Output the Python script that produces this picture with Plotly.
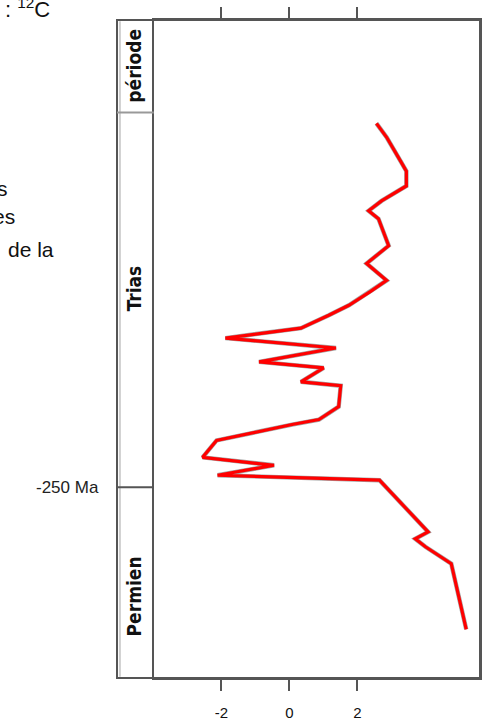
import plotly.graph_objects as go

# delta13C values (per mil) and ages (Ma, negative = before present)
d13c = [2.56, 2.86, 3.27, 3.44, 3.44, 3.15, 2.71, 2.33, 2.62, 2.92, 2.62, 2.27,
        2.86, 2.39, 1.75, 1.16, 0.34, -1.88, 1.37, -0.89, 1.01, 0.34, 1.51, 1.45,
        0.87, 0.08, -2.14, -2.55, -0.45, -2.11, 2.65, 4.08, 3.70, 4.00, 4.76, 5.20]
age = [-242.68, -242.96, -243.44, -243.64, -243.94, -244.06, -244.24, -244.44,
       -244.60, -245.14, -245.30, -245.50, -245.84, -246.06, -246.34, -246.54,
       -246.80, -247.00, -247.20, -247.48, -247.60, -247.88, -247.96, -248.38,
       -248.64, -248.74, -249.06, -249.40, -249.56, -249.76, -249.86, -250.90,
       -251.04, -251.20, -251.54, -252.86]

x_ticks = [-2, 0, 2]
x_tick_labels = ["-2", "0", "2"]
boundary_age = -250
boundary_label = "-250 Ma"
periods = ["période", "Trias", "Permien"]
period_label_age = [None, -246.0, -252.2]
left_fragments = ["s", "es", "de la"]

RED = "#ff0000"
FRAME = "#555555"
FONT = "Liberation Sans, Arial, sans-serif"
NARROW = "Liberation Sans Narrow, Arial Narrow, DejaVu Sans Condensed, sans-serif"

fig = go.Figure()
fig.add_trace(go.Scatter(x=d13c, y=age, mode="lines",
                         line=dict(color="rgba(90,90,90,0.55)", width=4.4),
                         hoverinfo="skip"))
fig.add_trace(go.Scatter(x=d13c, y=age, mode="lines",
                         line=dict(color=RED, width=3.2)))

col_w = 0.1014  # fraction of paper width used by the period column

fig.update_layout(
    width=485, height=724,
    margin=dict(l=117, r=3, t=20, b=42, pad=0),
    paper_bgcolor="white", plot_bgcolor="white",
    showlegend=False,
    xaxis=dict(domain=[col_w, 1], range=[-3.985, 5.605], showgrid=False,
               zeroline=False, showline=True, linecolor=FRAME, linewidth=2,
               mirror="ticks", ticks="outside", ticklen=11, tickwidth=2,
               tickcolor=FRAME, tickvals=x_ticks, ticktext=x_tick_labels,
               ticklabelstandoff=9,
               tickfont=dict(family=FONT, size=15, color="#111")),
    yaxis=dict(domain=[0, 1], range=[-253.84, -240.6], showgrid=False,
               zeroline=False, showline=True, linecolor=FRAME, linewidth=2,
               mirror=True, ticks="", showticklabels=False),
)

shapes = [
    # outer frame around column + plot
    dict(type="rect", xref="paper", yref="paper", x0=0, x1=1, y0=0, y1=1,
         line=dict(color=FRAME, width=2)),
    # light inner stripe of the column
    dict(type="line", xref="paper", yref="paper", x0=0.008, x1=0.008, y0=0.002, y1=0.998,
         line=dict(color="#cfcfcf", width=2)),
    # header separator
    dict(type="line", xref="paper", yref="paper", x0=0, x1=col_w, y0=0.8595, y1=0.8595,
         line=dict(color="#999999", width=2)),
    # period boundary
    dict(type="line", xref="paper", yref="y", x0=0, x1=col_w, y0=boundary_age, y1=boundary_age,
         line=dict(color=FRAME, width=2)),
]
fig.update_layout(shapes=shapes)

ann = []
label_x = 0.0466
ann.append(dict(xref="paper", yref="paper", x=label_x, y=0.9305, text=periods[0],
                textangle=-90, showarrow=False, xanchor="center", yanchor="middle",
                font=dict(family=NARROW, size=19, color="#111", weight="bold")))
for name, a in zip(periods[1:], period_label_age[1:]):
    ann.append(dict(xref="paper", yref="y", x=label_x, y=a, text=name,
                    textangle=-90, showarrow=False, xanchor="center", yanchor="middle",
                    font=dict(family=NARROW, size=19, color="#111", weight="bold")))
# boundary label outside the frame
ann.append(dict(xref="paper", yref="y", x=(101 - 117) / 365, y=boundary_age,
                text=boundary_label, showarrow=False, xanchor="right", yanchor="middle",
                font=dict(family=FONT, size=17, color="#222")))
# cut-off text on the left
frag_y = [190, 218, 251]
frag_x = [9, 16, 56]
for t, py, px in zip(left_fragments, frag_y, frag_x):
    ann.append(dict(xref="paper", yref="paper", x=(px - 117) / 365, y=(682 - py) / 662,
                    text=t, showarrow=False, xanchor="right", yanchor="middle",
                    font=dict(family=FONT, size=21, color="#111")))
ann.append(dict(xref="paper", yref="paper", x=(2 - 117) / 365, y=(682 - 8) / 662,
                text=": <sup>12</sup>C", showarrow=False, xanchor="left", yanchor="middle",
                font=dict(family=FONT, size=22, color="#111")))
fig.update_layout(annotations=ann)

fig.write_html("out.html", config={"displayModeBar": False},
               post_script="document.body.style.margin='0';document.body.style.overflow='hidden';")
